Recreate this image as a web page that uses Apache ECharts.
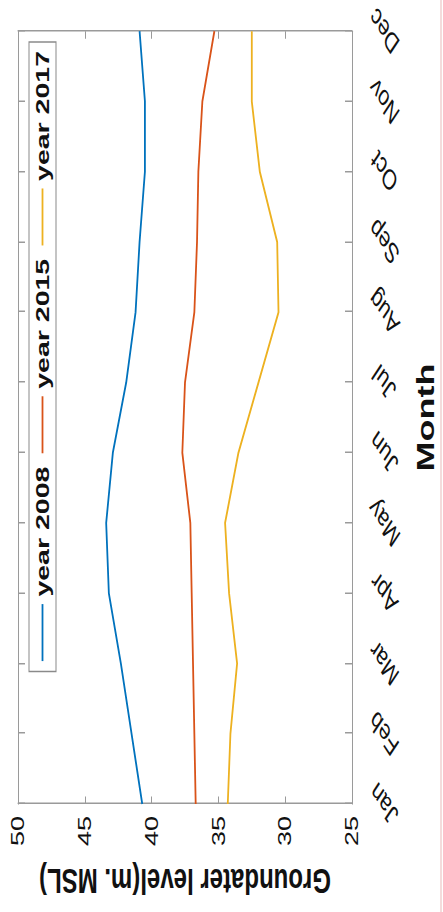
<!DOCTYPE html>
<html>
<head>
<meta charset="utf-8">
<script src="https://cdn.jsdelivr.net/npm/echarts@6/dist/echarts.min.js"></script>
<style>
  html, body { margin: 0; padding: 0; background: #ffffff; overflow: hidden; }
  body { width: 443px; height: 912px; position: relative; }
  #chart {
    position: absolute; left: 0; top: 0;
    width: 608px; height: 443px;
    transform-origin: 0 0;
    transform: matrix(0, -1.5, 1, 0, 0, 912);
  }
  #edge { position: absolute; left: 440px; top: 0; width: 2px; height: 912px; background: #f4dcdc; }
</style>
</head>
<body>
<div id="chart"></div>
<div id="edge"></div>
<script>
const months = ['Jan', 'Feb', 'Mar', 'Apr', 'May', 'Jun', 'Jul', 'Aug', 'Sep', 'Oct', 'Nov', 'Dec'];
const year2008 = [40.7, 41.5, 42.3, 43.2, 43.4, 42.9, 41.9, 41.2, 40.9, 40.5, 40.5, 40.9];
const year2015 = [36.7, 36.8, 36.9, 37.0, 37.1, 37.7, 37.5, 36.8, 36.6, 36.5, 36.2, 35.3];
const year2017 = [34.3, 34.1, 33.6, 34.2, 34.5, 33.5, 32.0, 30.5, 30.6, 31.9, 32.5, 32.5];
const valueTicks = { min: 25, max: 50, interval: 5 };
const seriesNames = ['year 2008', 'year 2015', 'year 2017'];
const colors = ['#0072BD', '#D95319', '#EDB120'];

const FONT = 'Liberation Sans, Arial, sans-serif';
const frame = '#9a9a9a';

const chart = echarts.init(document.getElementById('chart'), null, { renderer: 'svg', width: 608, height: 443 });
const mkSeries = (name, data, color) => ({
  name, type: 'line', data, xAxisIndex: 0, yAxisIndex: 0,
  symbol: 'none', smooth: false,
  lineStyle: { color, width: 1.8 }, itemStyle: { color }
});

chart.setOption({
  animation: false,
  backgroundColor: '#ffffff',
  grid: { left: 64, right: 18, top: 18, bottom: 91, containLabel: false },
  legend: {
    data: seriesNames,
    right: 28, top: 29,
    orient: 'horizontal',
    padding: [4, 6],
    itemWidth: 38, itemHeight: 14, itemGap: 8,
    itemStyle: { opacity: 0 },
    lineStyle: { width: 1.8 },
    borderColor: '#8a8a8a', borderWidth: 1, backgroundColor: '#ffffff',
    textStyle: { fontFamily: FONT, fontSize: 19, fontWeight: 'bold', color: '#111' }
  },
  xAxis: [
    {
      type: 'category', data: months, boundaryGap: false, position: 'bottom',
      axisLine: { show: true, lineStyle: { color: frame, width: 1 } },
      axisTick: { show: true, inside: true, length: 7, interval: 0, lineStyle: { color: frame } },
      axisLabel: {
        show: true, interval: 0, rotate: 45, align: 'center', verticalAlign: 'middle',
        margin: 32, fontFamily: FONT, fontSize: 19, color: '#111',
        showMinLabel: true, showMaxLabel: true, hideOverlap: false
      },
      splitLine: { show: false },
      name: 'Month', nameLocation: 'middle', nameGap: 61,
      nameTextStyle: { fontFamily: FONT, fontSize: 24, fontWeight: 'bold', color: '#111' }
    },
    {
      type: 'category', data: months, boundaryGap: false, position: 'top',
      axisLine: { show: true, lineStyle: { color: frame, width: 1 } },
      axisTick: { show: true, inside: true, length: 7, interval: 0, lineStyle: { color: frame } },
      axisLabel: { show: false }, splitLine: { show: false }
    }
  ],
  yAxis: [
    {
      type: 'value', min: valueTicks.min, max: valueTicks.max, interval: valueTicks.interval,
      position: 'left',
      axisLine: { show: true, lineStyle: { color: frame, width: 1 } },
      axisTick: { show: true, inside: true, length: 5, lineStyle: { color: frame } },
      axisLabel: { margin: 8, fontFamily: FONT, fontSize: 18, color: '#111' },
      splitLine: { show: false },
      name: 'Groundater level(m. MSL)', nameLocation: 'middle', nameRotate: 90, nameGap: 40,
      nameTextStyle: { fontFamily: FONT, fontSize: 24, fontWeight: 'bold', color: '#111' }
    },
    {
      type: 'value', min: valueTicks.min, max: valueTicks.max, interval: valueTicks.interval,
      position: 'right',
      axisLine: { show: true, lineStyle: { color: frame, width: 1 } },
      axisTick: { show: true, inside: true, length: 5, lineStyle: { color: frame } },
      axisLabel: { show: false }, splitLine: { show: false }
    }
  ],
  series: [
    mkSeries(seriesNames[0], year2008, colors[0]),
    mkSeries(seriesNames[1], year2015, colors[1]),
    mkSeries(seriesNames[2], year2017, colors[2])
  ]
});
</script>
</body>
</html>
